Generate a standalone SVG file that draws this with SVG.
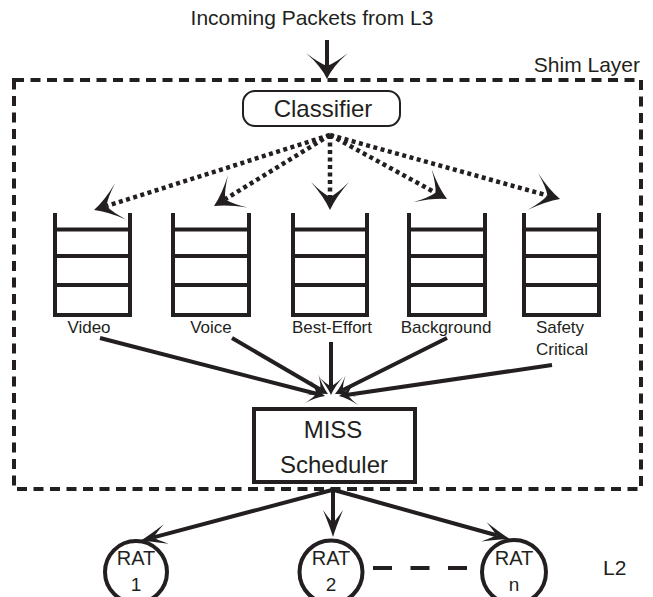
<svg xmlns="http://www.w3.org/2000/svg" width="653" height="597" viewBox="0 0 653 597">
<style>
text{font-family:"Liberation Sans",Arial,sans-serif;fill:#231f20}
.t20{font-size:21px}
.t24{font-size:24px;text-anchor:middle}
.lbl{font-size:17px;text-anchor:middle}
.rat{font-size:20px;text-anchor:middle}
.num{font-size:19px;text-anchor:middle}
.ladder{fill:none;stroke:#231f20;stroke-width:4}
.dot{fill:none;stroke:#231f20;stroke-width:4.5;stroke-dasharray:4 3.5}
.sol{fill:none;stroke:#231f20;stroke-width:4}
.head{fill:#231f20}
</style>
<defs>
<marker id="dotHead" markerUnits="userSpaceOnUse" orient="auto" refX="0" refY="0" markerWidth="40" markerHeight="40" overflow="visible">
<path class="head" d="M13,0 Q0,-6 -15,-19 Q-4,-8 0,0 Q-4,8 -15,19 Q0,6 13,0Z"/>
</marker>
<marker id="bigHead" markerUnits="userSpaceOnUse" orient="auto" refX="0" refY="0" markerWidth="40" markerHeight="40" overflow="visible">
<path class="head" d="M13,0 Q0,-6 -13,-21 Q-3,-8 0,0 Q-3,8 -13,21 Q0,6 13,0Z"/>
</marker>
<marker id="midHead" markerUnits="userSpaceOnUse" orient="auto" refX="0" refY="0" markerWidth="30" markerHeight="30" overflow="visible">
<path class="head" d="M9,0 Q0,-4 -9,-12 Q-2,-5 0,0 Q-2,5 -9,12 Q0,4 9,0Z"/>
</marker>
<marker id="narrowHead" markerUnits="userSpaceOnUse" orient="auto" refX="0" refY="0" markerWidth="30" markerHeight="30" overflow="visible">
<path class="head" d="M14,0 Q4,-3 -13,-10 Q-3,-3 0,0 Q-3,3 -13,10 Q4,3 14,0Z"/>
</marker>
</defs>

<g id="shim-layer">
<rect x="14" y="80" width="627" height="409" fill="none" stroke="#231f20" stroke-width="4" stroke-dasharray="10 6.5"/>
<text class="t20" x="640" y="72" text-anchor="end">Shim Layer</text>
</g>

<g id="incoming">
<text class="t20" x="312" y="25" text-anchor="middle">Incoming Packets from L3</text>
</g>

<g id="classifier">
<rect x="243" y="91" width="157" height="35" rx="12" fill="#fff" stroke="#231f20" stroke-width="2"/>
<text class="t24" x="323" y="117">Classifier</text>
</g>

<g id="queue-video">
<path class="ladder" d="M55,213 V315 H130 V213 M55,229.5 H130 M55,256 H130 M55,285 H130"/>
<text class="lbl" x="89" y="333">Video</text>
</g>
<g id="queue-voice">
<path class="ladder" d="M173,213 V315 H249 V213 M173,229.5 H249 M173,256 H249 M173,285 H249"/>
<text class="lbl" x="211" y="333">Voice</text>
</g>
<g id="queue-best-effort">
<path class="ladder" d="M293,213 V315 H367 V213 M293,229.5 H367 M293,256 H367 M293,285 H367"/>
<text class="lbl" x="332" y="333">Best-Effort</text>
</g>
<g id="queue-background">
<path class="ladder" d="M409,213 V315 H485 V213 M409,229.5 H485 M409,256 H485 M409,285 H485"/>
<text class="lbl" x="446" y="333">Background</text>
</g>
<g id="queue-safety">
<path class="ladder" d="M524,213 V315 H599 V213 M524,229.5 H599 M524,256 H599 M524,285 H599"/>
<text class="lbl" x="560" y="333">Safety</text>
<text class="lbl" x="562" y="355">Critical</text>
</g>

<g id="scheduler">
<rect x="254" y="409" width="161" height="73" fill="#fff" stroke="#231f20" stroke-width="4"/>
<text class="t24" x="333" y="438">MISS</text>
<text class="t24" x="334" y="473">Scheduler</text>
</g>

<g id="rat1">
<circle cx="136" cy="572" r="31" fill="#fff" stroke="#231f20" stroke-width="4"/>
<text class="rat" x="136" y="565">RAT</text>
<text class="num" x="136" y="591">1</text>
</g>
<g id="rat2">
<circle cx="331" cy="572" r="31.5" fill="#fff" stroke="#231f20" stroke-width="4"/>
<text class="rat" x="331" y="565">RAT</text>
<text class="num" x="331" y="591">2</text>
</g>
<g id="ratn">
<circle cx="514" cy="572" r="32" fill="#fff" stroke="#231f20" stroke-width="4"/>
<text class="rat" x="514" y="565">RAT</text>
<text class="num" x="514" y="591">n</text>
</g>
<g id="l2">
<text class="t20" x="603" y="575">L2</text>
</g>

<g id="connectors">
<line class="sol" x1="327" y1="40" x2="327" y2="66" marker-end="url(#bigHead)"/>

<line class="dot" x1="330" y1="135" x2="106.4" y2="206.1" marker-end="url(#dotHead)"/>
<line class="dot" x1="330" y1="135" x2="225.1" y2="199.2" marker-end="url(#dotHead)"/>
<line class="dot" x1="330" y1="135" x2="330" y2="197" marker-end="url(#dotHead)"/>
<line class="dot" x1="330" y1="135" x2="435.6" y2="192.8" marker-end="url(#dotHead)"/>
<line class="dot" x1="330" y1="135" x2="547.5" y2="195.5" marker-end="url(#dotHead)"/>

<line class="sol" x1="100" y1="338" x2="316.3" y2="393.8" marker-end="url(#midHead)"/>
<line class="sol" x1="232" y1="338" x2="320.2" y2="389.5" marker-end="url(#midHead)"/>
<line class="sol" x1="331" y1="342" x2="331" y2="386" marker-end="url(#midHead)"/>
<line class="sol" x1="447" y1="338" x2="343" y2="390" marker-end="url(#midHead)"/>
<line class="sol" x1="552" y1="365" x2="347.9" y2="394.7" marker-end="url(#midHead)"/>

<line class="sol" x1="332" y1="490" x2="153.5" y2="537.4" marker-end="url(#narrowHead)"/>
<line class="sol" x1="333" y1="490" x2="333" y2="523" marker-end="url(#narrowHead)"/>
<line class="sol" x1="334" y1="490" x2="496.5" y2="535.3" marker-end="url(#narrowHead)"/>

<line x1="373" y1="568" x2="467" y2="568" stroke="#231f20" stroke-width="4" stroke-dasharray="19 18.5"/>
</g>
</svg>
